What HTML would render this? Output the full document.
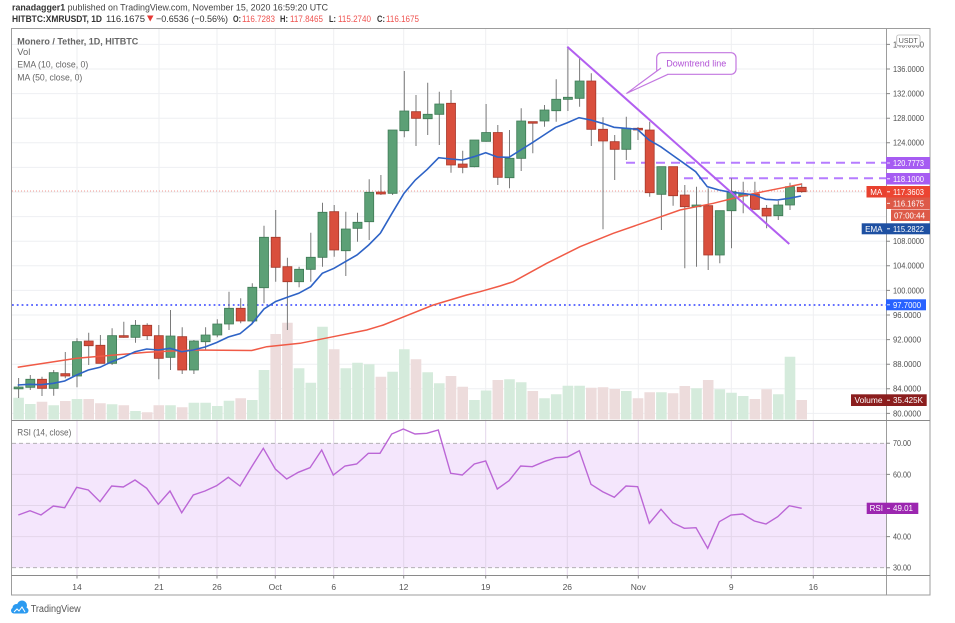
<!DOCTYPE html>
<html><head><meta charset="utf-8"><style>
html,body{margin:0;padding:0;background:#fff;}
svg{display:block;font-family:"Liberation Sans",sans-serif;}
.ax{font-size:8px;fill:#4f4f4f;}
.bt{font-size:8px;fill:#fff;}
.tl{font-size:8.5px;fill:#555;text-anchor:middle;}
.lg{font-size:9.5px;fill:#666;}
</style></head><body>
<svg width="955" height="623" viewBox="0 0 955 623" xmlns="http://www.w3.org/2000/svg">
<rect width="955" height="623" fill="#fff"/>
<!-- header -->
<text x="12" y="10.5" font-size="9.5" fill="#444" textLength="316" lengthAdjust="spacingAndGlyphs"><tspan font-weight="bold" fill="#333">ranadagger1</tspan> published on TradingView.com, November 15, 2020 16:59:20 UTC</text>
<text x="12" y="22" font-size="9.5" font-weight="bold" fill="#333" textLength="90" lengthAdjust="spacingAndGlyphs">HITBTC:XMRUSDT, 1D</text>
<text x="106" y="22" font-size="9.5" fill="#333" textLength="39" lengthAdjust="spacingAndGlyphs">116.1675</text>
<polygon points="147,15.5 153.5,15.5 150.2,21.5" fill="#e53935"/>
<text x="156" y="22" font-size="9.5" fill="#333" textLength="72" lengthAdjust="spacingAndGlyphs">−0.6536 (−0.56%)</text>
<text x="233" y="22" font-size="9.5" font-weight="bold" fill="#333" textLength="8" lengthAdjust="spacingAndGlyphs">O:</text>
<text x="242" y="22" font-size="9.5" fill="#ef5350" textLength="33" lengthAdjust="spacingAndGlyphs">116.7283</text>
<text x="280" y="22" font-size="9.5" font-weight="bold" fill="#333" textLength="8" lengthAdjust="spacingAndGlyphs">H:</text>
<text x="290" y="22" font-size="9.5" fill="#ef5350" textLength="33" lengthAdjust="spacingAndGlyphs">117.8465</text>
<text x="329" y="22" font-size="9.5" font-weight="bold" fill="#333" textLength="7" lengthAdjust="spacingAndGlyphs">L:</text>
<text x="338" y="22" font-size="9.5" fill="#ef5350" textLength="33" lengthAdjust="spacingAndGlyphs">115.2740</text>
<text x="377" y="22" font-size="9.5" font-weight="bold" fill="#333" textLength="8" lengthAdjust="spacingAndGlyphs">C:</text>
<text x="386" y="22" font-size="9.5" fill="#ef5350" textLength="33" lengthAdjust="spacingAndGlyphs">116.1675</text>

<!-- RSI band -->
<rect x="12" y="443.3" width="874" height="124.4" fill="#f4e6fc"/>
<!-- grid -->
<g stroke="#eeeff2" stroke-width="1">
<path d="M12 44.4H886M12 69H886M12 93.6H886M12 118.2H886M12 142.8H886M12 167.4H886M12 192H886M12 216.6H886M12 241.2H886M12 265.8H886M12 290.4H886M12 315H886M12 339.6H886M12 364.2H886M12 388.8H886M12 413.4H886"/>
<path d="M77 28V420M159 28V420M217 28V420M275.3 28V420M333.7 28V420M403.7 28V420M485.7 28V420M567.3 28V420M638.3 28V420M731.3 28V420M813.3 28V420"/>
</g>
<g stroke="#e3d6ea" stroke-width="1">
<path d="M12 474.4H886M12 505.5H886M12 536.6H886"/>
<path d="M77 420V575M159 420V575M217 420V575M275.3 420V575M333.7 420V575M403.7 420V575M485.7 420V575M567.3 420V575M638.3 420V575M731.3 420V575M813.3 420V575"/>
</g>
<path d="M12 443.3H886M12 567.7H886" stroke="#a9a9a9" stroke-width="0.8" stroke-dasharray="4,3"/>

<!-- volume -->
<path fill="#d5ebdc" d="M13.3 397.7h10.6V419.5h-10.6zM25 404h10.6V419.5h-10.6zM48.4 405.3h10.6V419.5h-10.6zM71.7 399h10.6V419.5h-10.6zM106.8 404.3h10.6V419.5h-10.6zM130.2 411h10.6V419.5h-10.6zM165.2 405.3h10.6V419.5h-10.6zM188.6 402.7h10.6V419.5h-10.6zM200.3 402.7h10.6V419.5h-10.6zM212 406h10.6V419.5h-10.6zM223.7 400.7h10.6V419.5h-10.6zM247 400h10.6V419.5h-10.6zM258.7 370h10.6V419.5h-10.6zM293.8 368.3h10.6V419.5h-10.6zM305.5 382.7h10.6V419.5h-10.6zM317.2 326.7h10.6V419.5h-10.6zM340.5 368.3h10.6V419.5h-10.6zM352.2 362.7h10.6V419.5h-10.6zM363.9 364.3h10.6V419.5h-10.6zM387.3 371.7h10.6V419.5h-10.6zM399 349.3h10.6V419.5h-10.6zM422.4 372.3h10.6V419.5h-10.6zM434 383.3h10.6V419.5h-10.6zM469.1 400h10.6V419.5h-10.6zM480.8 390.5h10.6V419.5h-10.6zM504.2 379.3h10.6V419.5h-10.6zM515.9 382.3h10.6V419.5h-10.6zM539.2 398.3h10.6V419.5h-10.6zM550.9 394.3h10.6V419.5h-10.6zM562.6 385.7h10.6V419.5h-10.6zM574.3 385.7h10.6V419.5h-10.6zM621 391h10.6V419.5h-10.6zM656.1 392.3h10.6V419.5h-10.6zM691.2 388.3h10.6V419.5h-10.6zM714.5 389.3h10.6V419.5h-10.6zM726.2 392.7h10.6V419.5h-10.6zM737.9 396h10.6V419.5h-10.6zM773 394.3h10.6V419.5h-10.6zM784.7 356.7h10.6V419.5h-10.6z"/>
<path fill="#eddcdc" d="M36.7 401.7h10.6V419.5h-10.6zM60 401h10.6V419.5h-10.6zM83.4 399h10.6V419.5h-10.6zM95.1 403.3h10.6V419.5h-10.6zM118.5 405.3h10.6V419.5h-10.6zM141.9 412.3h10.6V419.5h-10.6zM153.5 405.3h10.6V419.5h-10.6zM176.9 407.3h10.6V419.5h-10.6zM235.4 398.3h10.6V419.5h-10.6zM270.4 334h10.6V419.5h-10.6zM282.1 322.7h10.6V419.5h-10.6zM328.9 349.3h10.6V419.5h-10.6zM375.6 376.7h10.6V419.5h-10.6zM410.7 359.3h10.6V419.5h-10.6zM445.7 376h10.6V419.5h-10.6zM457.4 386.7h10.6V419.5h-10.6zM492.5 380h10.6V419.5h-10.6zM527.5 391h10.6V419.5h-10.6zM586 387.7h10.6V419.5h-10.6zM597.7 387.3h10.6V419.5h-10.6zM609.4 389h10.6V419.5h-10.6zM632.7 398.3h10.6V419.5h-10.6zM644.4 392.3h10.6V419.5h-10.6zM667.8 393.3h10.6V419.5h-10.6zM679.5 386h10.6V419.5h-10.6zM702.9 380h10.6V419.5h-10.6zM749.6 399h10.6V419.5h-10.6zM761.3 389.3h10.6V419.5h-10.6zM796.4 400h10.6V419.5h-10.6z"/>

<!-- horizontal lines -->
<line x1="12" y1="305" x2="886" y2="305" stroke="#4f5cff" stroke-width="1.8" stroke-dasharray="1.8,3"/>
<line x1="12" y1="191" x2="886" y2="191" stroke="#ef7a70" stroke-width="0.8" stroke-dasharray="1,2"/>
<line x1="626" y1="162.7" x2="886" y2="162.7" stroke="#b57bff" stroke-width="2" stroke-dasharray="9,6"/>
<line x1="684" y1="178.3" x2="886" y2="178.3" stroke="#b57bff" stroke-width="2" stroke-dasharray="9,6"/>

<!-- wicks -->
<path stroke="#7a7a7a" stroke-width="1" fill="none" d="M18.6 378V398M30.3 375V390M42 376.7V396M53.7 370V395.7M65.3 352V378.3M77 338.3V387.3M88.7 332.7V365M100.4 335V363.3M112.1 328.3V365M123.8 321.7V337.7M135.5 320V342.7M147.2 323.3V340M158.8 325V379.3M170.5 310V370M182.2 327.3V374M193.9 340V374M205.6 327.3V350M217.3 319.3V337.3M229 291.7V330M240.7 298.3V323.3M252.3 283.3V323.3M264 225.7V303.3M275.7 210V281.7M287.4 257.7V330M299.1 266.7V287.3M310.8 232.7V281.7M322.5 202.7V266.7M334.2 205V256.7M345.8 211.7V276M357.5 212.7V241.7M369.2 179.3V240M380.9 175V195M392.6 130V195M404.3 71V137.3M416 95V146M427.7 82.7V135M439.3 91.7V145M451 90V172.7M462.7 150.7V173.3M474.4 140V167.3M486.1 104V141.7M497.8 125V185M509.5 130V188.3M521.2 108.3V171M532.8 121.7V153.3M544.5 105V126.7M556.2 79.3V121.7M567.9 46.7V111M579.6 58.3V106.7M591.3 73.3V146M603 117.3V229.3M614.7 135V180M626.3 116.7V160M638 127V140M649.7 121.7V196.7M661.4 166.7V230M673.1 166.7V205.7M684.8 185V268.3M696.5 186.7V266.7M708.2 188.3V270M719.8 210.7V263.3M731.5 178.3V248.3M743.2 181.7V213.3M754.9 181.7V210M766.6 205V228.3M778.3 200.7V220M790 182.7V210M801.7 183.3V192.7"/>
<!-- bodies -->
<path fill="#5ca076" stroke="#3f7a55" stroke-width="0.8" d="M14.1 387h9v1.8h-9zM25.8 379.3h9v8h-9zM49.2 372.7h9v15.6h-9zM72.5 341.7h9v34.3h-9zM107.6 335.7h9v27.6h-9zM131 325.3h9v12h-9zM166 336h9v21.3h-9zM189.4 341h9v29h-9zM201.1 335h9v6.7h-9zM212.8 324h9v11h-9zM224.5 308.3h9v15.7h-9zM247.8 287.3h9v33.7h-9zM259.5 237.3h9v50.4h-9zM294.6 269.3h9v12.4h-9zM306.3 257.3h9v12h-9zM318 212.3h9v45h-9zM341.3 229h9v21.7h-9zM353 222.3h9v6h-9zM364.7 192.3h9v29.4h-9zM388.1 130h9v63.3h-9zM399.8 111h9v19.7h-9zM423.2 114.3h9v4.4h-9zM434.8 104h9v10.3h-9zM469.9 140h9v26.7h-9zM481.6 132.5h9v8.8h-9zM505 158.3h9v19.4h-9zM516.7 121h9v37.3h-9zM540 110h9v11h-9zM551.7 99.3h9v11.4h-9zM563.4 97.3h9v2h-9zM575.1 81h9v17.3h-9zM621.8 128.3h9v21h-9zM656.9 166.7h9v27.6h-9zM692 205h9v1.7h-9zM715.3 210.7h9v44.3h-9zM727 191.7h9v19h-9zM738.7 194h9v2h-9zM773.8 205h9v10.7h-9zM785.5 186.7h9v18.3h-9z"/>
<path fill="#d94f3d" stroke="#a6392b" stroke-width="0.8" d="M37.5 379.3h9v9h-9zM60.8 373.7h9v2.3h-9zM84.2 341h9v4.7h-9zM95.9 345.3h9v18h-9zM119.3 335.7h9v1.6h-9zM142.7 325.3h9v10.4h-9zM154.3 335.7h9v22.6h-9zM177.7 336.7h9v33.3h-9zM236.2 308.3h9v12.7h-9zM271.2 237.3h9v30h-9zM282.9 266.7h9v15h-9zM329.7 211.7h9v38.3h-9zM376.4 192h9v2h-9zM411.5 111.7h9v6.6h-9zM446.5 103.3h9v61.7h-9zM458.2 164h9v3.3h-9zM493.3 132.5h9v44.8h-9zM528.3 121.7h9v1.5h-9zM586.8 81h9v48.3h-9zM598.5 129.3h9v11.7h-9zM610.2 141.7h9v7.6h-9zM633.5 128.3h9v1.7h-9zM645.2 130h9v62.7h-9zM668.6 166.7h9v29h-9zM680.3 195h9v11.7h-9zM703.7 205.7h9v49.3h-9zM750.4 194h9v15.3h-9zM762.1 208.3h9v7.7h-9zM797.2 187.3h9v4.4h-9z"/>

<!-- MA 50 -->
<polyline fill="none" stroke="#f05a46" stroke-width="1.5" points="17.7,367.3 76.7,358.3 146.7,352.3 193.3,350 251.7,350.5 266.7,346.7 300,343.3 333.3,336.7 366.7,330 383.3,325 400,318.3 433.3,305 466.7,295 480,291.7 500,286 513.3,281.7 546.7,263.3 580,246.7 613.3,233.3 646.7,221.7 680,210 713.3,203.3 746.7,195 780,188.3 801.7,184"/>
<!-- EMA 10 -->
<polyline fill="none" stroke="#2e63c6" stroke-width="1.6" points="17.7,385 29.3,384.3 41,384.7 53.3,383.3 64.7,381 76.7,375 88.3,370 100,367.3 111.7,361.7 123.3,357.3 135,351.7 146.7,349 158.3,350 170,348.3 181.7,351.7 193.3,350 205,347 216.7,342.5 228.3,337 240,333.7 251.7,324 264,309 275.7,301.5 287.3,297.3 298.7,293.3 310.7,286.7 322.3,273.3 334,268.3 345.3,261.7 357,255 368.7,245 380.3,233.3 392,213.3 404,193.3 415.3,180 427.3,169.3 438.7,157.7 450.7,159 462.3,160 474,156.7 485.7,152.7 497.3,157 509,157.3 520.7,150 532.3,142.7 544,135 555.7,127.3 567.3,122.7 579,117.7 590.7,120 602.3,123.3 614,127.3 625.7,128.3 637.3,129.3 649,140 660.7,146.7 672.3,155 684,163.3 695.7,171.7 707.3,186.7 719,190 730.7,192.3 742.3,193.3 754,195 765.7,199.3 777.3,200 789,198.3 801,196"/>

<!-- downtrend line & callout -->
<line x1="567.3" y1="46.7" x2="789.3" y2="244" stroke="#b25ff0" stroke-width="2"/>
<rect x="656.7" y="52.7" width="79.3" height="21.6" rx="5" fill="#fff" stroke="#c377e0" stroke-width="1.2"/>
<path d="M661 68 L626.7 93.3 L668 74.3" fill="#fff" stroke="#c377e0" stroke-width="1.2" stroke-linejoin="round"/>
<path d="M661.5 69.5 L667 73.6" stroke="#fff" stroke-width="1.5"/>
<text x="696.3" y="66.5" font-size="9" fill="#b251d6" text-anchor="middle">Downtrend line</text>

<!-- RSI line -->
<polyline fill="none" stroke="#bb66d6" stroke-width="1.4" points="18.3,515 30,510.7 41,515 53.3,506 64.7,507.7 76.7,487.3 88.3,490 100,501.7 111.7,486 123.3,487 135,480 146.7,488.3 158.3,504.3 170,491 181.7,512.7 193.3,495 205,491 216.7,485.7 228.3,477.3 240,486 251.7,466.7 263.3,448.3 275.3,469 286.7,479 298.3,472.3 310,467.7 321.7,450 333.3,475 345,466 356.7,464 368.3,453.3 380,453.3 391.7,434 403.3,429 415,434 426.7,433.3 438.3,430 450.7,473.3 462.3,475 474.3,464 485.7,461 497.3,489 509,480.7 520.7,466 532.3,466.7 544,461.7 555.7,457.7 567.3,457 579.3,450.7 591,484.3 602.7,491.7 614.3,497.3 626,486 637.7,486.7 649.3,523.3 661,509.3 672.7,522.7 684.3,528.3 696,527.7 707.7,548.3 719.3,521.7 731,515 742.7,514 754.3,521 766,524 777.7,516.7 789.3,505.7 801.7,508.3"/>

<!-- legends -->
<text x="17.3" y="44.5" class="lg" font-weight="bold" fill="#5a5a5a" textLength="121" lengthAdjust="spacingAndGlyphs">Monero / Tether, 1D, HITBTC</text>
<text x="17.3" y="55" class="lg" textLength="13" lengthAdjust="spacingAndGlyphs">Vol</text>
<text x="17.3" y="67.5" class="lg" textLength="71" lengthAdjust="spacingAndGlyphs">EMA (10, close, 0)</text>
<text x="17.3" y="80.5" class="lg" textLength="65" lengthAdjust="spacingAndGlyphs">MA (50, close, 0)</text>
<text x="17.3" y="435.5" class="lg" textLength="54" lengthAdjust="spacingAndGlyphs">RSI (14, close)</text>

<!-- frame -->
<rect x="11.5" y="28.5" width="918.5" height="566.5" fill="none" stroke="#9d9d9d" stroke-width="1"/>
<line x1="886.5" y1="28" x2="886.5" y2="595" stroke="#9d9d9d" stroke-width="1"/>
<line x1="11.5" y1="420.5" x2="930" y2="420.5" stroke="#8a8a8a" stroke-width="1"/>
<line x1="11.5" y1="575.5" x2="930" y2="575.5" stroke="#8a8a8a" stroke-width="1"/>

<!-- price axis ticks & labels -->
<path stroke="#888" stroke-width="1" d="M886 44.4h4M886 69h4M886 93.6h4M886 118.2h4M886 142.8h4M886 241.2h4M886 265.8h4M886 290.4h4M886 315h4M886 339.6h4M886 364.2h4M886 388.8h4M886 413.4h4M886 443.3h4M886 474.4h4M886 505.5h4M886 536.6h4M886 567.7h4"/>
<g class="ax">
<text x="893" y="47.3" textLength="31" lengthAdjust="spacingAndGlyphs">140.0000</text>
<text x="893" y="71.9" textLength="31" lengthAdjust="spacingAndGlyphs">136.0000</text>
<text x="893" y="96.5" textLength="31" lengthAdjust="spacingAndGlyphs">132.0000</text>
<text x="893" y="121.1" textLength="31" lengthAdjust="spacingAndGlyphs">128.0000</text>
<text x="893" y="145.7" textLength="31" lengthAdjust="spacingAndGlyphs">124.0000</text>
<text x="893" y="244.1" textLength="31" lengthAdjust="spacingAndGlyphs">108.0000</text>
<text x="893" y="268.7" textLength="31" lengthAdjust="spacingAndGlyphs">104.0000</text>
<text x="893" y="293.3" textLength="31" lengthAdjust="spacingAndGlyphs">100.0000</text>
<text x="893" y="317.9" textLength="28" lengthAdjust="spacingAndGlyphs">96.0000</text>
<text x="893" y="342.5" textLength="28" lengthAdjust="spacingAndGlyphs">92.0000</text>
<text x="893" y="367.1" textLength="28" lengthAdjust="spacingAndGlyphs">88.0000</text>
<text x="893" y="391.7" textLength="28" lengthAdjust="spacingAndGlyphs">84.0000</text>
<text x="893" y="416.3" textLength="28" lengthAdjust="spacingAndGlyphs">80.0000</text>
<text x="893" y="446.2" textLength="18" lengthAdjust="spacingAndGlyphs">70.00</text>
<text x="893" y="477.3" textLength="18" lengthAdjust="spacingAndGlyphs">60.00</text>
<text x="893" y="539.5" textLength="18" lengthAdjust="spacingAndGlyphs">40.00</text>
<text x="893" y="570.6" textLength="18" lengthAdjust="spacingAndGlyphs">30.00</text>
</g>
<rect x="896.7" y="35" width="23.3" height="10.5" rx="2" fill="#fff" stroke="#bbb" stroke-width="0.8"/>
<text x="908.3" y="43.2" font-size="7" fill="#555" text-anchor="middle">USDT</text>

<!-- badges -->
<rect x="886" y="157" width="44" height="12" fill="#a65cf2"/>
<text x="893" y="166" class="bt" textLength="31" lengthAdjust="spacingAndGlyphs">120.7773</text>
<rect x="886" y="173" width="44" height="11.5" fill="#a65cf2"/>
<text x="893" y="181.8" class="bt" textLength="31" lengthAdjust="spacingAndGlyphs">118.1000</text>
<rect x="866.5" y="186" width="19.5" height="11.5" fill="#e8412f"/>
<text x="876.2" y="194.8" class="bt" text-anchor="middle">MA</text>
<rect x="886" y="186" width="44" height="11.5" fill="#ec4532"/>
<text x="893" y="194.8" class="bt" textLength="31" lengthAdjust="spacingAndGlyphs">117.3603</text>
<rect x="886" y="197.5" width="44" height="11.5" fill="#dd5a48"/>
<text x="893" y="206.3" class="bt" textLength="31" lengthAdjust="spacingAndGlyphs">116.1675</text>
<rect x="891" y="209.5" width="39" height="11.5" fill="#dd5a48"/>
<text x="894" y="218.3" class="bt" textLength="31" lengthAdjust="spacingAndGlyphs">07:00:44</text>
<rect x="861.7" y="223.3" width="24.3" height="11" fill="#1e50a2"/>
<text x="873.8" y="231.8" class="bt" text-anchor="middle">EMA</text>
<rect x="886" y="223.3" width="44" height="11" fill="#1e50a2"/>
<text x="893" y="231.8" class="bt" textLength="31" lengthAdjust="spacingAndGlyphs">115.2822</text>
<rect x="886" y="299.3" width="40" height="11" fill="#2962ff"/>
<text x="893" y="307.8" class="bt" textLength="28" lengthAdjust="spacingAndGlyphs">97.7000</text>
<rect x="851" y="394.3" width="35" height="11.7" fill="#8b1e1e"/>
<text x="868.5" y="403" class="bt" text-anchor="middle" textLength="28" lengthAdjust="spacingAndGlyphs">Volume</text>
<rect x="886" y="394.3" width="40.7" height="11.7" fill="#8b1e1e"/>
<text x="893" y="403" class="bt" textLength="30" lengthAdjust="spacingAndGlyphs">35.425K</text>
<rect x="866.7" y="502.7" width="19.3" height="11.3" fill="#9c27b0"/>
<text x="876.3" y="511.2" class="bt" text-anchor="middle">RSI</text>
<rect x="886" y="502.7" width="32.3" height="11.3" fill="#9c27b0"/>
<text x="893" y="511.2" class="bt" textLength="20" lengthAdjust="spacingAndGlyphs">49.01</text>
<path stroke="#fff" stroke-width="0.8" d="M887 163h3M887 178.8h3M887 191.8h3M887 203.3h3M887 228.8h3M887 304.8h3M887 400.2h3M887 508.3h3"/>

<!-- time axis -->
<path stroke="#888" stroke-width="1" d="M77 575.5v3M159 575.5v3M217 575.5v3M275.3 575.5v3M333.7 575.5v3M403.7 575.5v3M485.7 575.5v3M567.3 575.5v3M638.3 575.5v3M731.3 575.5v3M813.3 575.5v3"/>
<g class="tl">
<text x="77" y="590">14</text>
<text x="159" y="590">21</text>
<text x="217" y="590">26</text>
<text x="275.3" y="590">Oct</text>
<text x="333.7" y="590">6</text>
<text x="403.7" y="590">12</text>
<text x="485.7" y="590">19</text>
<text x="567.3" y="590">26</text>
<text x="638.3" y="590">Nov</text>
<text x="731.3" y="590">9</text>
<text x="813.3" y="590">16</text>
</g>

<!-- TradingView logo -->
<g fill="#2b9af0">
<circle cx="16.5" cy="608" r="4"/>
<circle cx="22" cy="605.5" r="5"/>
<rect x="11" y="607.5" width="17.5" height="6" rx="3"/>
</g>
<path d="M14 612l3-3 2 2 3-4 3 5" stroke="#fff" stroke-width="1" fill="none"/>
<text x="30.7" y="612" font-size="10" fill="#555" textLength="50" lengthAdjust="spacingAndGlyphs">TradingView</text>
</svg>
</body></html>
